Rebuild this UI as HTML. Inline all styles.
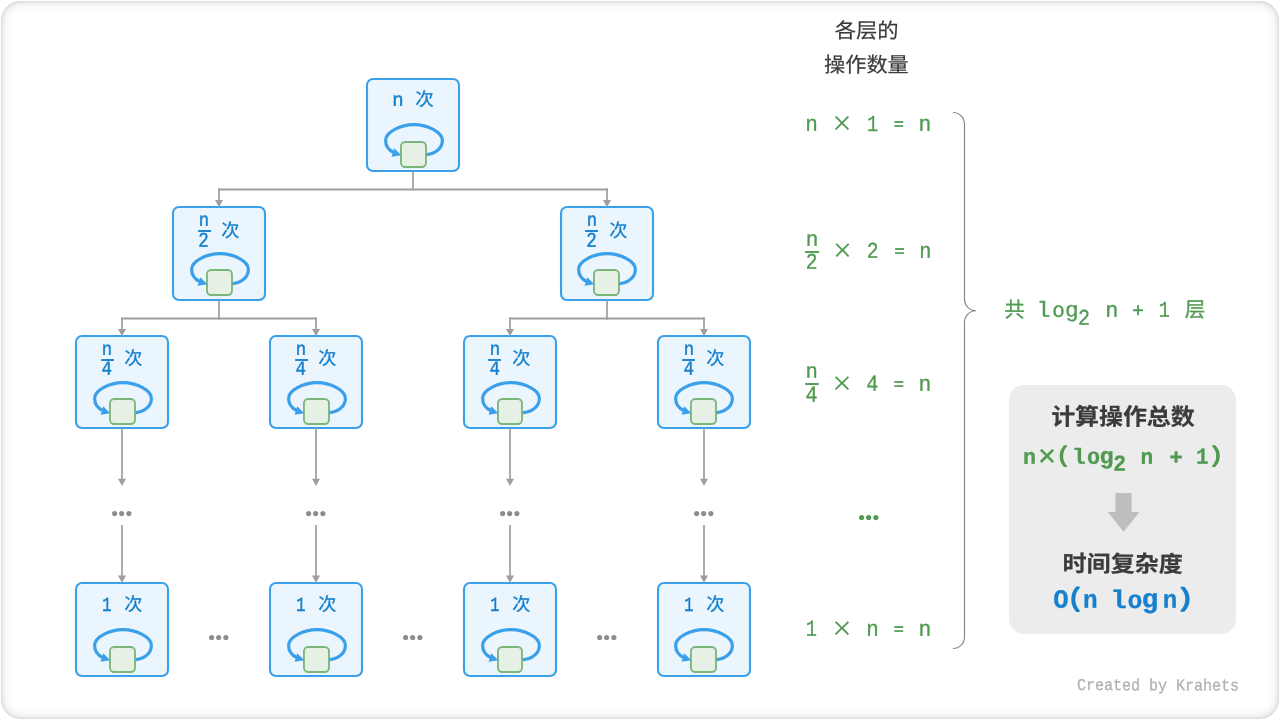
<!DOCTYPE html>
<html lang="zh-CN"><head><meta charset="utf-8"><title>时间复杂度</title>
<style>
html,body{margin:0;padding:0;background:#fff;width:1280px;height:720px;overflow:hidden}
.card{position:absolute;left:1px;top:1px;width:1278px;height:718px;border-radius:19.5px;background:#fff;box-shadow:inset 0 0 4px rgba(0,0,0,.117), inset 0 0 11px rgba(0,0,0,.165)}
svg{position:absolute;left:0;top:0;will-change:transform}
text{font-family:"Liberation Mono", "Noto Sans CJK SC", monospace;white-space:pre;stroke-linejoin:round;text-rendering:geometricPrecision}
.bt{fill:#1580cd;stroke:#1580cd}
.bc{fill:#1580cd;stroke:#1580cd;font-family:"Liberation Sans", "Noto Sans CJK SC", sans-serif}
.hd{fill:#3b3b3b;stroke:#3b3b3b;font-family:"Liberation Sans", "Noto Sans CJK SC", sans-serif}
.g{fill:#4f9a50;stroke:#4f9a50}
.gx{fill:#4f9a50;stroke:#4f9a50;font-family:"Liberation Serif", "Noto Serif CJK SC", serif}
.gc{fill:#4f9a50;stroke:#4f9a50;font-family:"Liberation Sans", "Noto Sans CJK SC", sans-serif}
.pb{font-weight:bold;fill:#3b3b3b;stroke:#3b3b3b;font-family:"Liberation Sans", "Noto Sans CJK SC", sans-serif}
.pg{font-weight:bold;fill:#4f9a50;stroke:#4f9a50}
.px{fill:#4f9a50;stroke:#4f9a50}
.pp{fill:#4f9a50;stroke:#4f9a50}
.pq{fill:#1580cd;stroke:#1580cd}
.po{font-weight:bold;fill:#1580cd;stroke:#1580cd}
.wm{font-size:100px;fill:#b2b2b2;stroke:#b2b2b2}
.dt{font-family:"Liberation Sans", "Noto Sans CJK SC", sans-serif;fill:#8c8c8c}
.dg{font-family:"Liberation Sans", "Noto Sans CJK SC", sans-serif;fill:#4f9a50}
</style></head><body>
<div class="card"></div>
<svg width="1280" height="720" viewBox="0 0 1280 720">
<g transform="translate(367,79)">
<rect x="0" y="0" width="92" height="92" rx="6" ry="6" fill="#ebf5fd" stroke="#3aa0ea" stroke-width="2.1"/>
<path transform="translate(0,0)" d="M 58.2 75.75 L 59.67 75.6 C 69.74 74.59 75.38 68.1 75.38 61.4 C 75.38 52.9 60.2 45.6 47 45.6 C 33.8 45.6 18.62 52.9 18.62 61.4 C 18.62 66.3 21.55 71.0 26.94 73.66" fill="none" stroke="#3aa0ea" stroke-width="3.2"/>
<rect x="33.95" y="62.95" width="25.05" height="25.05" rx="4.2" ry="4.2" fill="#e6f0e5" stroke="#7bb679" stroke-width="1.85"/>
<path transform="translate(0,0)" d="M 34.3 76.2 L 24.6 77.7 L 27.2 69.2 Z" fill="#3aa0ea"/>
<text transform="matrix(0.2 0.0006 -0.0006 0.2 25.27 26.77)"><tspan class="bt" x="0" y="0" font-size="96.3" textLength="56.79" lengthAdjust="spacingAndGlyphs" stroke-width="2.25">n</tspan> <tspan class="bc" x="114.98" y="-1.53" font-size="91.89" textLength="92.31" lengthAdjust="spacingAndGlyphs" stroke-width="1.50">次</tspan></text>
</g>
<g transform="translate(173,207)">
<rect x="0" y="0" width="92" height="93" rx="6" ry="6" fill="#ebf5fd" stroke="#3aa0ea" stroke-width="2.1"/>
<path transform="translate(0,1)" d="M 58.2 75.75 L 59.67 75.6 C 69.74 74.59 75.38 68.1 75.38 61.4 C 75.38 52.9 60.2 45.6 47 45.6 C 33.8 45.6 18.62 52.9 18.62 61.4 C 18.62 66.3 21.55 71.0 26.94 73.66" fill="none" stroke="#3aa0ea" stroke-width="3.2"/>
<rect x="33.95" y="62.95" width="25.05" height="25.05" rx="4.2" ry="4.2" fill="#e6f0e5" stroke="#7bb679" stroke-width="1.85"/>
<path transform="translate(0,1)" d="M 34.3 76.2 L 24.6 77.7 L 27.2 69.2 Z" fill="#3aa0ea"/>
<text transform="matrix(0.2 0.0006 -0.0006 0.2 25.82 18.77)"><tspan class="bt" x="0" y="0" font-size="95.37" textLength="51.79" lengthAdjust="spacingAndGlyphs" stroke-width="2.25">n</tspan> <tspan class="bt" x="-3.04" y="105.01" font-size="105.22" textLength="52.51" lengthAdjust="spacingAndGlyphs" stroke-width="2.25">2</tspan> <tspan class="bc" x="112.72" y="53.98" font-size="91.89" textLength="90.71" lengthAdjust="spacingAndGlyphs" stroke-width="1.50">次</tspan></text>
<rect x="24.7" y="22.55" width="13.7" height="2.9" fill="#ebf5fd"/><rect x="25.15" y="23.05" width="12.8" height="1.9" fill="#1580cd"/>
</g>
<g transform="translate(561,207)">
<rect x="0" y="0" width="92" height="93" rx="6" ry="6" fill="#ebf5fd" stroke="#3aa0ea" stroke-width="2.1"/>
<path transform="translate(-1,1)" d="M 58.2 75.75 L 59.67 75.6 C 69.74 74.59 75.38 68.1 75.38 61.4 C 75.38 52.9 60.2 45.6 47 45.6 C 33.8 45.6 18.62 52.9 18.62 61.4 C 18.62 66.3 21.55 71.0 26.94 73.66" fill="none" stroke="#3aa0ea" stroke-width="3.2"/>
<rect x="32.95" y="62.95" width="25.05" height="25.05" rx="4.2" ry="4.2" fill="#e6f0e5" stroke="#7bb679" stroke-width="1.85"/>
<path transform="translate(-1,1)" d="M 34.3 76.2 L 24.6 77.7 L 27.2 69.2 Z" fill="#3aa0ea"/>
<text transform="matrix(0.2 0.0006 -0.0006 0.2 25.82 18.77)"><tspan class="bt" x="0" y="0" font-size="95.37" textLength="51.79" lengthAdjust="spacingAndGlyphs" stroke-width="2.25">n</tspan> <tspan class="bt" x="-3.04" y="105.01" font-size="105.22" textLength="52.51" lengthAdjust="spacingAndGlyphs" stroke-width="2.25">2</tspan> <tspan class="bc" x="112.72" y="53.98" font-size="91.89" textLength="90.71" lengthAdjust="spacingAndGlyphs" stroke-width="1.50">次</tspan></text>
<rect x="23.7" y="22.55" width="13.7" height="2.9" fill="#ebf5fd"/><rect x="24.15" y="23.05" width="12.8" height="1.9" fill="#1580cd"/>
</g>
<g transform="translate(76,336)">
<rect x="0" y="0" width="92" height="92" rx="6" ry="6" fill="#ebf5fd" stroke="#3aa0ea" stroke-width="2.1"/>
<path transform="translate(0,1)" d="M 58.2 75.75 L 59.67 75.6 C 69.74 74.59 75.38 68.1 75.38 61.4 C 75.38 52.9 60.2 45.6 47 45.6 C 33.8 45.6 18.62 52.9 18.62 61.4 C 18.62 66.3 21.55 71.0 26.94 73.66" fill="none" stroke="#3aa0ea" stroke-width="3.2"/>
<rect x="33.95" y="62.95" width="25.05" height="25.05" rx="4.2" ry="4.2" fill="#e6f0e5" stroke="#7bb679" stroke-width="1.85"/>
<path transform="translate(0,1)" d="M 34.3 76.2 L 24.6 77.7 L 27.2 69.2 Z" fill="#3aa0ea"/>
<text transform="matrix(0.2 0.0006 -0.0006 0.2 25.82 18.77)"><tspan class="bt" x="0" y="0" font-size="94.44" textLength="51.79" lengthAdjust="spacingAndGlyphs" stroke-width="2.25">n</tspan> <tspan class="bt" x="-1.31" y="100" font-size="105.3" textLength="52.51" lengthAdjust="spacingAndGlyphs" stroke-width="2.25">4</tspan> <tspan class="bc" x="112.7" y="47.98" font-size="91.89" textLength="90.71" lengthAdjust="spacingAndGlyphs" stroke-width="1.50">次</tspan></text>
<rect x="24.7" y="22.55" width="13.7" height="2.9" fill="#ebf5fd"/><rect x="25.15" y="23.05" width="12.8" height="1.9" fill="#1580cd"/>
</g>
<g transform="translate(76,583)">
<rect x="0" y="0" width="92" height="93" rx="6" ry="6" fill="#ebf5fd" stroke="#3aa0ea" stroke-width="2.1"/>
<path transform="translate(0,1)" d="M 58.2 75.75 L 59.67 75.6 C 69.74 74.59 75.38 68.1 75.38 61.4 C 75.38 52.9 60.2 45.6 47 45.6 C 33.8 45.6 18.62 52.9 18.62 61.4 C 18.62 66.3 21.55 71.0 26.94 73.66" fill="none" stroke="#3aa0ea" stroke-width="3.2"/>
<rect x="33.95" y="63.95" width="25.05" height="25.05" rx="4.2" ry="4.2" fill="#e6f0e5" stroke="#7bb679" stroke-width="1.85"/>
<path transform="translate(0,1)" d="M 34.3 76.2 L 24.6 77.7 L 27.2 69.2 Z" fill="#3aa0ea"/>
<text transform="matrix(0.2 0.0006 -0.0006 0.2 26.07 27.77)"><tspan class="bt" x="0" y="0" font-size="101.52" textLength="47.51" lengthAdjust="spacingAndGlyphs" stroke-width="2.25">1</tspan> <tspan class="bc" x="111.33" y="-1.95" font-size="91.08" textLength="90.71" lengthAdjust="spacingAndGlyphs" stroke-width="1.50">次</tspan></text>
</g>
<g transform="translate(270,336)">
<rect x="0" y="0" width="92" height="92" rx="6" ry="6" fill="#ebf5fd" stroke="#3aa0ea" stroke-width="2.1"/>
<path transform="translate(0,1)" d="M 58.2 75.75 L 59.67 75.6 C 69.74 74.59 75.38 68.1 75.38 61.4 C 75.38 52.9 60.2 45.6 47 45.6 C 33.8 45.6 18.62 52.9 18.62 61.4 C 18.62 66.3 21.55 71.0 26.94 73.66" fill="none" stroke="#3aa0ea" stroke-width="3.2"/>
<rect x="33.95" y="62.95" width="25.05" height="25.05" rx="4.2" ry="4.2" fill="#e6f0e5" stroke="#7bb679" stroke-width="1.85"/>
<path transform="translate(0,1)" d="M 34.3 76.2 L 24.6 77.7 L 27.2 69.2 Z" fill="#3aa0ea"/>
<text transform="matrix(0.2 0.0006 -0.0006 0.2 25.82 18.77)"><tspan class="bt" x="0" y="0" font-size="94.44" textLength="51.79" lengthAdjust="spacingAndGlyphs" stroke-width="2.25">n</tspan> <tspan class="bt" x="-1.31" y="100" font-size="105.3" textLength="52.51" lengthAdjust="spacingAndGlyphs" stroke-width="2.25">4</tspan> <tspan class="bc" x="112.7" y="47.98" font-size="91.89" textLength="90.71" lengthAdjust="spacingAndGlyphs" stroke-width="1.50">次</tspan></text>
<rect x="24.7" y="22.55" width="13.7" height="2.9" fill="#ebf5fd"/><rect x="25.15" y="23.05" width="12.8" height="1.9" fill="#1580cd"/>
</g>
<g transform="translate(270,583)">
<rect x="0" y="0" width="92" height="93" rx="6" ry="6" fill="#ebf5fd" stroke="#3aa0ea" stroke-width="2.1"/>
<path transform="translate(0,1)" d="M 58.2 75.75 L 59.67 75.6 C 69.74 74.59 75.38 68.1 75.38 61.4 C 75.38 52.9 60.2 45.6 47 45.6 C 33.8 45.6 18.62 52.9 18.62 61.4 C 18.62 66.3 21.55 71.0 26.94 73.66" fill="none" stroke="#3aa0ea" stroke-width="3.2"/>
<rect x="33.95" y="63.95" width="25.05" height="25.05" rx="4.2" ry="4.2" fill="#e6f0e5" stroke="#7bb679" stroke-width="1.85"/>
<path transform="translate(0,1)" d="M 34.3 76.2 L 24.6 77.7 L 27.2 69.2 Z" fill="#3aa0ea"/>
<text transform="matrix(0.2 0.0006 -0.0006 0.2 26.07 27.77)"><tspan class="bt" x="0" y="0" font-size="101.52" textLength="47.51" lengthAdjust="spacingAndGlyphs" stroke-width="2.25">1</tspan> <tspan class="bc" x="111.33" y="-1.95" font-size="91.08" textLength="90.71" lengthAdjust="spacingAndGlyphs" stroke-width="1.50">次</tspan></text>
</g>
<g transform="translate(464,336)">
<rect x="0" y="0" width="92" height="92" rx="6" ry="6" fill="#ebf5fd" stroke="#3aa0ea" stroke-width="2.1"/>
<path transform="translate(0,1)" d="M 58.2 75.75 L 59.67 75.6 C 69.74 74.59 75.38 68.1 75.38 61.4 C 75.38 52.9 60.2 45.6 47 45.6 C 33.8 45.6 18.62 52.9 18.62 61.4 C 18.62 66.3 21.55 71.0 26.94 73.66" fill="none" stroke="#3aa0ea" stroke-width="3.2"/>
<rect x="33.95" y="62.95" width="24.05" height="25.05" rx="4.2" ry="4.2" fill="#e6f0e5" stroke="#7bb679" stroke-width="1.85"/>
<path transform="translate(0,1)" d="M 34.3 76.2 L 24.6 77.7 L 27.2 69.2 Z" fill="#3aa0ea"/>
<text transform="matrix(0.2 0.0006 -0.0006 0.2 25.82 18.77)"><tspan class="bt" x="0" y="0" font-size="94.44" textLength="51.79" lengthAdjust="spacingAndGlyphs" stroke-width="2.25">n</tspan> <tspan class="bt" x="-1.31" y="100" font-size="105.3" textLength="52.51" lengthAdjust="spacingAndGlyphs" stroke-width="2.25">4</tspan> <tspan class="bc" x="112.7" y="47.98" font-size="91.89" textLength="90.71" lengthAdjust="spacingAndGlyphs" stroke-width="1.50">次</tspan></text>
<rect x="23.7" y="22.55" width="13.7" height="2.9" fill="#ebf5fd"/><rect x="24.15" y="23.05" width="12.8" height="1.9" fill="#1580cd"/>
</g>
<g transform="translate(464,583)">
<rect x="0" y="0" width="92" height="93" rx="6" ry="6" fill="#ebf5fd" stroke="#3aa0ea" stroke-width="2.1"/>
<path transform="translate(0,1)" d="M 58.2 75.75 L 59.67 75.6 C 69.74 74.59 75.38 68.1 75.38 61.4 C 75.38 52.9 60.2 45.6 47 45.6 C 33.8 45.6 18.62 52.9 18.62 61.4 C 18.62 66.3 21.55 71.0 26.94 73.66" fill="none" stroke="#3aa0ea" stroke-width="3.2"/>
<rect x="33.95" y="63.95" width="24.05" height="25.05" rx="4.2" ry="4.2" fill="#e6f0e5" stroke="#7bb679" stroke-width="1.85"/>
<path transform="translate(0,1)" d="M 34.3 76.2 L 24.6 77.7 L 27.2 69.2 Z" fill="#3aa0ea"/>
<text transform="matrix(0.2 0.0006 -0.0006 0.2 26.07 27.77)"><tspan class="bt" x="0" y="0" font-size="101.52" textLength="47.51" lengthAdjust="spacingAndGlyphs" stroke-width="2.25">1</tspan> <tspan class="bc" x="111.33" y="-1.95" font-size="91.08" textLength="90.71" lengthAdjust="spacingAndGlyphs" stroke-width="1.50">次</tspan></text>
</g>
<g transform="translate(658,336)">
<rect x="0" y="0" width="92" height="92" rx="6" ry="6" fill="#ebf5fd" stroke="#3aa0ea" stroke-width="2.1"/>
<path transform="translate(-1,1)" d="M 58.2 75.75 L 59.67 75.6 C 69.74 74.59 75.38 68.1 75.38 61.4 C 75.38 52.9 60.2 45.6 47 45.6 C 33.8 45.6 18.62 52.9 18.62 61.4 C 18.62 66.3 21.55 71.0 26.94 73.66" fill="none" stroke="#3aa0ea" stroke-width="3.2"/>
<rect x="32.95" y="62.95" width="25.05" height="25.05" rx="4.2" ry="4.2" fill="#e6f0e5" stroke="#7bb679" stroke-width="1.85"/>
<path transform="translate(-1,1)" d="M 34.3 76.2 L 24.6 77.7 L 27.2 69.2 Z" fill="#3aa0ea"/>
<text transform="matrix(0.2 0.0006 -0.0006 0.2 25.82 18.77)"><tspan class="bt" x="0" y="0" font-size="94.44" textLength="51.79" lengthAdjust="spacingAndGlyphs" stroke-width="2.25">n</tspan> <tspan class="bt" x="-1.31" y="100" font-size="105.3" textLength="52.51" lengthAdjust="spacingAndGlyphs" stroke-width="2.25">4</tspan> <tspan class="bc" x="112.7" y="47.98" font-size="91.89" textLength="90.71" lengthAdjust="spacingAndGlyphs" stroke-width="1.50">次</tspan></text>
<rect x="23.7" y="22.55" width="13.7" height="2.9" fill="#ebf5fd"/><rect x="24.15" y="23.05" width="12.8" height="1.9" fill="#1580cd"/>
</g>
<g transform="translate(658,583)">
<rect x="0" y="0" width="92" height="93" rx="6" ry="6" fill="#ebf5fd" stroke="#3aa0ea" stroke-width="2.1"/>
<path transform="translate(-1,1)" d="M 58.2 75.75 L 59.67 75.6 C 69.74 74.59 75.38 68.1 75.38 61.4 C 75.38 52.9 60.2 45.6 47 45.6 C 33.8 45.6 18.62 52.9 18.62 61.4 C 18.62 66.3 21.55 71.0 26.94 73.66" fill="none" stroke="#3aa0ea" stroke-width="3.2"/>
<rect x="32.95" y="63.95" width="25.05" height="25.05" rx="4.2" ry="4.2" fill="#e6f0e5" stroke="#7bb679" stroke-width="1.85"/>
<path transform="translate(-1,1)" d="M 34.3 76.2 L 24.6 77.7 L 27.2 69.2 Z" fill="#3aa0ea"/>
<text transform="matrix(0.2 0.0006 -0.0006 0.2 26.07 27.77)"><tspan class="bt" x="0" y="0" font-size="101.52" textLength="47.51" lengthAdjust="spacingAndGlyphs" stroke-width="2.25">1</tspan> <tspan class="bc" x="111.33" y="-1.95" font-size="91.08" textLength="90.71" lengthAdjust="spacingAndGlyphs" stroke-width="1.50">次</tspan></text>
</g>
<path d="M 413 171 V 190.6 M 219 201 V 188.5 M 607 201 V 188.5" fill="none" stroke="#9e9e9e" stroke-width="1.7"/><path d="M 218.15 189.45 H 607.85" fill="none" stroke="#9e9e9e" stroke-width="1.9"/>
<path d="M 219 300.1 V 319.7 M 122 330 V 317.6 M 316 330 V 317.6" fill="none" stroke="#9e9e9e" stroke-width="1.7"/><path d="M 121.15 318.55 H 316.85" fill="none" stroke="#9e9e9e" stroke-width="1.9"/>
<path d="M 607 300.1 V 319.7 M 510 330 V 317.6 M 704 330 V 317.6" fill="none" stroke="#9e9e9e" stroke-width="1.7"/><path d="M 509.15 318.55 H 704.85" fill="none" stroke="#9e9e9e" stroke-width="1.9"/>
<path d="M 122 427.9 V 480 M 122 525 V 576" fill="none" stroke="#9e9e9e" stroke-width="1.7"/>
<text class="dt" x="111.22" y="519.97" style="font-size:19.3px;letter-spacing:0.4px">•••</text>
<path d="M 316 427.9 V 480 M 316 525 V 576" fill="none" stroke="#9e9e9e" stroke-width="1.7"/>
<text class="dt" x="305.22" y="519.97" style="font-size:19.3px;letter-spacing:0.4px">•••</text>
<path d="M 510 427.9 V 480 M 510 525 V 576" fill="none" stroke="#9e9e9e" stroke-width="1.7"/>
<text class="dt" x="499.22" y="519.97" style="font-size:19.3px;letter-spacing:0.4px">•••</text>
<path d="M 704 427.9 V 480 M 704 525 V 576" fill="none" stroke="#9e9e9e" stroke-width="1.7"/>
<text class="dt" x="693.22" y="519.97" style="font-size:19.3px;letter-spacing:0.4px">•••</text>
<text class="dt" x="208.22" y="643.97" style="font-size:19.3px;letter-spacing:0.4px">•••</text>
<text class="dt" x="402.22" y="643.97" style="font-size:19.3px;letter-spacing:0.4px">•••</text>
<text class="dt" x="596.22" y="643.97" style="font-size:19.3px;letter-spacing:0.4px">•••</text>
<path d="M 219 207.3 L 215 200 L 223 200 Z" fill="#9e9e9e"/>
<path d="M 607 207.3 L 603 200 L 611 200 Z" fill="#9e9e9e"/>
<path d="M 122 336.3 L 118 329 L 126 329 Z" fill="#9e9e9e"/>
<path d="M 316 336.3 L 312 329 L 320 329 Z" fill="#9e9e9e"/>
<path d="M 510 336.3 L 506 329 L 514 329 Z" fill="#9e9e9e"/>
<path d="M 704 336.3 L 700 329 L 708 329 Z" fill="#9e9e9e"/>
<path d="M 122 486.1 L 118 478.8 L 126 478.8 Z" fill="#9e9e9e"/>
<path d="M 122 582.9 L 118 575.6 L 126 575.6 Z" fill="#9e9e9e"/>
<path d="M 316 486.1 L 312 478.8 L 320 478.8 Z" fill="#9e9e9e"/>
<path d="M 316 582.9 L 312 575.6 L 320 575.6 Z" fill="#9e9e9e"/>
<path d="M 510 486.1 L 506 478.8 L 514 478.8 Z" fill="#9e9e9e"/>
<path d="M 510 582.9 L 506 575.6 L 514 575.6 Z" fill="#9e9e9e"/>
<path d="M 704 486.1 L 700 478.8 L 708 478.8 Z" fill="#9e9e9e"/>
<path d="M 704 582.9 L 700 575.6 L 708 575.6 Z" fill="#9e9e9e"/>
<text transform="matrix(0.2 0.0006 -0.0006 0.2 834.71 37.78)"><tspan class="hd" x="0" y="0" font-size="103.72" textLength="319.66" lengthAdjust="spacingAndGlyphs" stroke-width="1.00">各层的</tspan> <tspan class="hd" x="-53.03" y="170.67" font-size="103.76" textLength="424.01" lengthAdjust="spacingAndGlyphs" stroke-width="1.00">操作数量</tspan></text>
<text transform="matrix(0.2 0.0006 -0.0006 0.2 805.29 130.82)"><tspan class="g" x="0" y="0" font-size="111.11" textLength="62.87" lengthAdjust="spacingAndGlyphs" stroke-width="1.75">n</tspan> <tspan class="gx" x="134.87" y="16.54" font-size="169.75" textLength="96.78" lengthAdjust="spacingAndGlyphs" stroke-width="0.50">×</tspan> <tspan class="g" x="308.22" y="-0.92" font-size="113.64" textLength="55.32" lengthAdjust="spacingAndGlyphs" stroke-width="1.75">1</tspan> <tspan class="g" x="442.88" y="-7.63" font-size="82.81" textLength="50.79" lengthAdjust="spacingAndGlyphs" stroke-width="3.00">=</tspan> <tspan class="g" x="565.58" y="-1.7" font-size="111.11" textLength="63.94" lengthAdjust="spacingAndGlyphs" stroke-width="1.75">n</tspan></text>
<text transform="matrix(0.2 0.0006 -0.0006 0.2 805.73 245.82)"><tspan class="g" x="0" y="0" font-size="107.87" textLength="63.22" lengthAdjust="spacingAndGlyphs" stroke-width="1.75">n</tspan> <tspan class="g" x="0.02" y="115" font-size="113.43" textLength="58.38" lengthAdjust="spacingAndGlyphs" stroke-width="1.75">2</tspan> <tspan class="gx" x="136.25" y="76.29" font-size="167.9" textLength="94" lengthAdjust="spacingAndGlyphs" stroke-width="0.50">×</tspan> <tspan class="g" x="304.81" y="59.09" font-size="112.69" textLength="58.7" lengthAdjust="spacingAndGlyphs" stroke-width="1.75">2</tspan> <tspan class="g" x="443.64" y="52.37" font-size="82.81" textLength="50.48" lengthAdjust="spacingAndGlyphs" stroke-width="3.00">=</tspan> <tspan class="g" x="568.3" y="58.3" font-size="111.11" textLength="60.72" lengthAdjust="spacingAndGlyphs" stroke-width="1.75">n</tspan></text>
<rect x="804.65" y="250.55" width="14.7" height="2.9" fill="#fff"/><rect x="805.1" y="251.05" width="13.8" height="1.9" fill="#4f9a50"/>
<text transform="matrix(0.2 0.0006 -0.0006 0.2 805.47 377.82)"><tspan class="g" x="0" y="0" font-size="107.87" textLength="61.79" lengthAdjust="spacingAndGlyphs" stroke-width="1.75">n</tspan> <tspan class="g" x="0.43" y="120" font-size="115.15" textLength="59.95" lengthAdjust="spacingAndGlyphs" stroke-width="1.75">4</tspan> <tspan class="gx" x="134.16" y="81.3" font-size="167.9" textLength="96.78" lengthAdjust="spacingAndGlyphs" stroke-width="0.50">×</tspan> <tspan class="g" x="304.44" y="64.09" font-size="114.39" textLength="60.31" lengthAdjust="spacingAndGlyphs" stroke-width="1.75">4</tspan> <tspan class="g" x="442.16" y="57.38" font-size="82.81" textLength="50.79" lengthAdjust="spacingAndGlyphs" stroke-width="3.00">=</tspan> <tspan class="g" x="564.87" y="63.31" font-size="111.11" textLength="63.94" lengthAdjust="spacingAndGlyphs" stroke-width="1.75">n</tspan></text>
<rect x="804.65" y="382.55" width="14.7" height="2.9" fill="#fff"/><rect x="805.1" y="383.05" width="13.8" height="1.9" fill="#4f9a50"/>
<text class="dg" x="858.22" y="524.02" style="font-size:19.3px;letter-spacing:0.4px">•••</text>
<text transform="matrix(0.2 0.0006 -0.0006 0.2 805.87 635.83)"><tspan class="g" x="0" y="0" font-size="113.64" textLength="56.01" lengthAdjust="spacingAndGlyphs" stroke-width="1.75">1</tspan> <tspan class="gx" x="131.98" y="16.31" font-size="167.9" textLength="96.78" lengthAdjust="spacingAndGlyphs" stroke-width="0.50">×</tspan> <tspan class="g" x="302.41" y="-0.91" font-size="111.11" textLength="62.51" lengthAdjust="spacingAndGlyphs" stroke-width="1.75">n</tspan> <tspan class="g" x="439.98" y="-7.62" font-size="82.81" textLength="50.79" lengthAdjust="spacingAndGlyphs" stroke-width="3.00">=</tspan> <tspan class="g" x="562.69" y="-1.69" font-size="111.11" textLength="63.94" lengthAdjust="spacingAndGlyphs" stroke-width="1.75">n</tspan></text>
<path d="M 953 112.5 A 11.5 11.5 0 0 1 964.5 124 V 299.2 A 11.5 11.5 0 0 0 976 310.7 A 11.5 11.5 0 0 0 964.5 322.2 V 637 A 11.5 11.5 0 0 1 953 648.5" fill="none" stroke="#858585" stroke-width="1.15"/>
<text transform="matrix(0.2 0.0006 -0.0006 0.2 1004.25 317)"><tspan class="gc" x="0" y="0" font-size="105.19" textLength="102.76" lengthAdjust="spacingAndGlyphs" stroke-width="1.25">共</tspan> <tspan class="g" x="163.08" y="-1.37" font-size="108.97" textLength="68.32" lengthAdjust="spacingAndGlyphs" stroke-width="1.75">l</tspan><tspan class="g" x="239.61" y="-1.9" font-size="105" textLength="62.56" lengthAdjust="spacingAndGlyphs" stroke-width="1.75">o</tspan><tspan class="g" x="304.19" y="-1.73" font-size="110.4" textLength="68.1" lengthAdjust="spacingAndGlyphs" stroke-width="1.75">g</tspan><tspan class="g" x="369.34" y="38.01" font-size="111.94" textLength="59.68" lengthAdjust="spacingAndGlyphs" stroke-width="1.75">2</tspan> <tspan class="g" x="505.58" y="-2.4" font-size="109.26" textLength="65.37" lengthAdjust="spacingAndGlyphs" stroke-width="1.75">n</tspan> <tspan class="g" x="640.13" y="-4.56" font-size="94.39" textLength="57.22" lengthAdjust="spacingAndGlyphs" stroke-width="2.75">+</tspan> <tspan class="g" x="772.93" y="-3.2" font-size="112.12" textLength="55.32" lengthAdjust="spacingAndGlyphs" stroke-width="1.75">1</tspan> <tspan class="gc" x="902.04" y="-3.65" font-size="104.01" textLength="102.47" lengthAdjust="spacingAndGlyphs" stroke-width="1.25">层</tspan></text>
<rect x="1009" y="385" width="227" height="249" rx="15" ry="15" fill="#ececec"/>
<text transform="matrix(0.2 0.0006 -0.0006 0.2 1051.19 424.64)"><tspan class="pb" x="0" y="0" font-size="116.23" textLength="717.17" lengthAdjust="spacingAndGlyphs" stroke-width="1.00">计算操作总数</tspan></text>
<text transform="matrix(0.2 0.0006 -0.0006 0.2 1022.89 463.85)"><tspan class="pg" x="0" y="0" font-size="109.72" textLength="65.06" lengthAdjust="spacingAndGlyphs" stroke-width="1.50">n</tspan><tspan class="px" x="74.76" y="10.77" font-size="152.25" textLength="92.4" lengthAdjust="spacingAndGlyphs" stroke-width="1.50">×</tspan><tspan class="pp" x="168.07" y="-10.78" font-size="109.63" textLength="68.9" lengthAdjust="spacingAndGlyphs" stroke-width="6.50">(</tspan><tspan class="pg" x="247.2" y="-0.74" font-size="109.31" textLength="67.34" lengthAdjust="spacingAndGlyphs" stroke-width="1.50">l</tspan><tspan class="pg" x="320.65" y="-0.86" font-size="114.91" textLength="65.3" lengthAdjust="spacingAndGlyphs" stroke-width="1.50">o</tspan><tspan class="pg" x="383.49" y="-2.56" font-size="117.45" textLength="70.52" lengthAdjust="spacingAndGlyphs" stroke-width="1.50">g</tspan><tspan class="pg" x="451.55" y="33.65" font-size="114.55" textLength="64.01" lengthAdjust="spacingAndGlyphs" stroke-width="1.50">2</tspan> <tspan class="pg" x="588.47" y="-1.77" font-size="109.72" textLength="63.42" lengthAdjust="spacingAndGlyphs" stroke-width="1.50">n</tspan> <tspan class="pg" x="731.37" y="-0.71" font-size="109.8" textLength="68.17" lengthAdjust="spacingAndGlyphs" stroke-width="1.50">+</tspan> <tspan class="pg" x="865.78" y="-2.6" font-size="114.02" textLength="62.43" lengthAdjust="spacingAndGlyphs" stroke-width="1.50">1</tspan><tspan class="pp" x="929.89" y="-13.06" font-size="109.63" textLength="71.33" lengthAdjust="spacingAndGlyphs" stroke-width="6.50">)</tspan></text>
<path d="M 1115.4 492.9 H 1131.6 V 511.9 H 1139.4 L 1123.5 531.9 L 1107.9 511.9 H 1115.4 Z" fill="#bebebe"/>
<text transform="matrix(0.2 0.0006 -0.0006 0.2 1062.54 571.62)"><tspan class="pb" x="0" y="0" font-size="112.63" textLength="601.68" lengthAdjust="spacingAndGlyphs" stroke-width="1.00">时间复杂度</tspan></text>
<text transform="matrix(0.2 0.0006 -0.0006 0.2 1053.26 607.84)"><tspan class="po" x="0" y="0" font-size="131.99" textLength="76.71" lengthAdjust="spacingAndGlyphs" stroke-width="1.50">O</tspan><tspan class="pq" x="72.05" y="-11.14" font-size="127.59" textLength="77.79" lengthAdjust="spacingAndGlyphs" stroke-width="8.00">(</tspan><tspan class="po" x="148.13" y="-0.37" font-size="128.24" textLength="72.89" lengthAdjust="spacingAndGlyphs" stroke-width="1.50">n</tspan> <tspan class="po" x="286.31" y="0.46" font-size="127.24" textLength="81.34" lengthAdjust="spacingAndGlyphs" stroke-width="1.50">l</tspan><tspan class="po" x="370.64" y="-0.56" font-size="126.36" textLength="74.48" lengthAdjust="spacingAndGlyphs" stroke-width="1.50">o</tspan><tspan class="po" x="441.3" y="-3.33" font-size="134.9" textLength="84.13" lengthAdjust="spacingAndGlyphs" stroke-width="1.50">g</tspan> <tspan class="po" x="547.42" y="-1.57" font-size="128.24" textLength="72.01" lengthAdjust="spacingAndGlyphs" stroke-width="1.50">n</tspan><tspan class="pq" x="617.71" y="-12.44" font-size="125.99" textLength="82.65" lengthAdjust="spacingAndGlyphs" stroke-width="8.00">)</tspan></text>
<text class="wm" transform="matrix(.15 .0006 -.0006 .165 1077 689.95)" stroke-width="1.9">Created by Krahets</text>
</svg>
</body></html>
